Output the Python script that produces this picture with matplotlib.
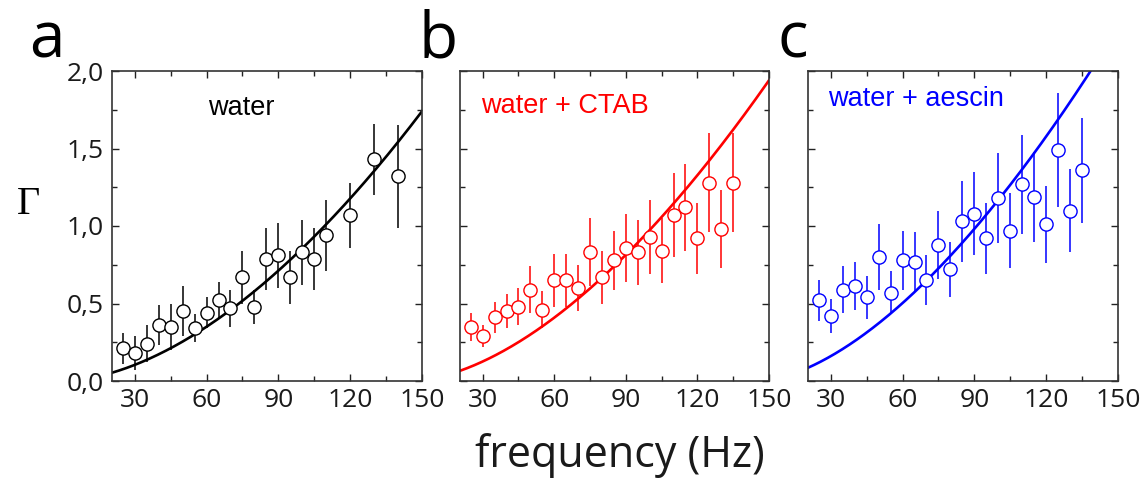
import numpy as np
import matplotlib
matplotlib.use("Agg")
import matplotlib.pyplot as plt
from matplotlib.ticker import MultipleLocator, FuncFormatter

# ---------------- data ----------------
freq_a = [25, 30, 35, 40, 45, 50, 55, 60, 65, 70, 75, 80, 85, 90, 95, 100, 105, 110, 120, 130, 140]
gamma_a = [0.21, 0.18, 0.24, 0.36, 0.35, 0.45, 0.34, 0.44, 0.52, 0.47, 0.67, 0.48, 0.79, 0.81, 0.67, 0.83, 0.79, 0.94, 1.07, 1.43, 1.32]
err_a = [0.10, 0.11, 0.12, 0.13, 0.15, 0.16, 0.09, 0.10, 0.12, 0.12, 0.17, 0.11, 0.20, 0.21, 0.17, 0.21, 0.20, 0.23, 0.21, 0.23, 0.33]

freq_b = [25, 30, 35, 40, 45, 50, 55, 60, 65, 70, 75, 80, 85, 90, 95, 100, 105, 110, 115, 120, 125, 130, 135]
gamma_b = [0.35, 0.29, 0.41, 0.45, 0.48, 0.59, 0.46, 0.65, 0.65, 0.60, 0.83, 0.67, 0.78, 0.86, 0.83, 0.93, 0.84, 1.07, 1.12, 0.92, 1.28, 0.98, 1.28]
err_b = [0.09, 0.07, 0.10, 0.11, 0.12, 0.15, 0.12, 0.17, 0.17, 0.15, 0.22, 0.17, 0.19, 0.22, 0.21, 0.24, 0.21, 0.27, 0.28, 0.23, 0.32, 0.25, 0.32]

freq_c = [25, 30, 35, 40, 45, 50, 55, 60, 65, 70, 75, 80, 85, 90, 95, 100, 105, 110, 115, 120, 125, 130, 135]
gamma_c = [0.52, 0.42, 0.59, 0.61, 0.54, 0.80, 0.57, 0.78, 0.77, 0.65, 0.88, 0.72, 1.03, 1.08, 0.92, 1.18, 0.97, 1.27, 1.19, 1.01, 1.49, 1.10, 1.36]
err_c = [0.13, 0.11, 0.15, 0.155, 0.14, 0.21, 0.14, 0.19, 0.19, 0.16, 0.22, 0.18, 0.26, 0.27, 0.23, 0.29, 0.24, 0.32, 0.29, 0.25, 0.37, 0.27, 0.34]

# power-law fit parameters: Gamma = fit_at_150 * (f/150)**fit_exponent
fit_at_150 = [1.74, 1.94, 2.28]
fit_exponent = [1.75, 1.70, 1.65]

labels = ["water", "water + CTAB", "water + aescin"]
colors = ["black", "#ff0000", "#0000ff"]
panel_letters = ["a", "b", "c"]
xticks = [30, 60, 90, 120, 150]
yticks = [0.0, 0.5, 1.0, 1.5, 2.0]

# ---------------- figure ----------------
W, H = 1148, 480
fig = plt.figure(figsize=(W / 100, H / 100), dpi=100)

tick_font = "Open Sans"
axes_px = [(112, 71, 422, 381), (460, 71, 769, 381), (808, 71, 1118, 381)]
text_pos = [(241, 115), (565, 113), (916, 106)]
letter_pos = [(47, 58), (438, 58), (793, 58)]

datasets = [(freq_a, gamma_a, err_a), (freq_b, gamma_b, err_b), (freq_c, gamma_c, err_c)]

for i, (x0, y0, x1, y1) in enumerate(axes_px):
    ax = fig.add_axes([x0 / W, 1 - y1 / H, (x1 - x0) / W, (y1 - y0) / H])
    f, g, e = datasets[i]
    c = colors[i]
    fgrid = np.linspace(20.5, 150, 300)
    ax.plot(fgrid, fit_at_150[i] * (fgrid / 150.0) ** fit_exponent[i], color=c, lw=1.9, zorder=2, clip_on=True)
    ax.errorbar(f, g, yerr=e, fmt="none", ecolor=c, elinewidth=1.1, capsize=0, zorder=3)
    ax.plot(f, g, "o", mfc="white", mec=c, mew=1.0, ms=9.5, zorder=4, ls="none")
    ax.set_xlim(20.5, 150)
    ax.set_ylim(0, 2.0)
    ax.xaxis.set_major_locator(MultipleLocator(30))
    ax.xaxis.set_minor_locator(MultipleLocator(15))
    ax.yaxis.set_major_locator(MultipleLocator(0.5))
    ax.yaxis.set_minor_locator(MultipleLocator(0.25))
    ax.set_xticks(xticks)
    ax.tick_params(which="both", direction="in", top=True, right=True, color="#222222", width=1.0)
    ax.tick_params(which="major", length=5)
    ax.tick_params(which="minor", length=3.5)
    ax.tick_params(axis="x", which="minor", top=True, length=3.5)
    ax.tick_params(axis="x", labelsize=19, pad=5)
    ax.tick_params(axis="y", labelsize=19, pad=6)
    for lab in ax.get_xticklabels() + ax.get_yticklabels():
        lab.set_fontfamily(tick_font)
        lab.set_color("#1a1a1a")
    if i == 0:
        ax.set_yticks(yticks)
        ax.yaxis.set_major_formatter(FuncFormatter(lambda v, p: ("%.1f" % v).replace(".", ",")))
    else:
        ax.set_yticks(yticks)
        ax.set_yticklabels([])
    for s in ax.spines.values():
        s.set_linewidth(1.2)
        s.set_color("#333333")
    tx, ty = text_pos[i]
    fig.text(tx / W, 1 - ty / H, labels[i], color=c, fontsize=19.5, family="Liberation Sans",
             ha="center", va="baseline")
    lx, ly = letter_pos[i]
    fig.text(lx / W, 1 - ly / H, panel_letters[i], fontsize=46, family=tick_font,
             ha="center", va="baseline", color="black")

fig.text(29 / W, 1 - 204 / H, "Γ", fontsize=29, family="Liberation Serif", ha="center", va="center")
fig.text(620 / W, 1 - 467 / H, "frequency (Hz)", fontsize=31, family=tick_font, ha="center", va="baseline",
         color="#1a1a1a")

fig.savefig("out.png", dpi=100)
